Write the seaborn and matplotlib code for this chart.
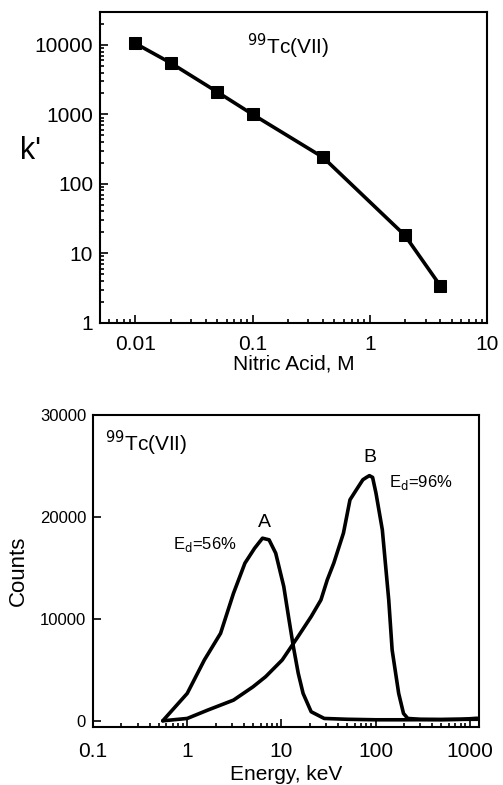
import matplotlib
matplotlib.use("Agg")
import matplotlib.pyplot as plt
import matplotlib.ticker as mticker
import seaborn as sns
import pandas as pd

sns.set_style("white")
plt.rcParams['font.family'] = ['Liberation Sans', 'DejaVu Sans']
plt.rcParams['text.color'] = 'black'
plt.rcParams['axes.labelcolor'] = 'black'
plt.rcParams['xtick.color'] = 'black'
plt.rcParams['ytick.color'] = 'black'

# Top panel data
nitric_acid = [0.01, 0.02, 0.05, 0.1, 0.4, 2.0, 4.0]
k_prime = [10500, 5500, 2100, 1000, 240, 18, 3.4]

# Bottom panel data: spectrum A
energy_a = [0.55, 1.0, 1.52, 2.26, 3.1, 4.1, 5.2, 6.3, 7.4, 8.7, 10.6, 11.9,
            13.4, 15.1, 17.0, 20.7, 28.5, 50, 100, 200, 500, 1000, 1200]
counts_a = [0, 2690, 5970, 8590, 12520, 15480, 16950, 17930, 17770, 16460,
            13180, 10230, 7280, 4660, 2690, 890, 230, 150, 100, 100, 120, 150, 150]
# spectrum B
energy_b = [0.55, 1.0, 1.65, 3.1, 5.0, 6.8, 10.2, 15.0, 20.7, 26.3, 30.7, 36.0,
            45.6, 53.5, 62.6, 73.3, 80, 86, 93, 101, 118, 138, 150, 176, 198,
            220, 300, 500, 800, 1000, 1200]
counts_b = [0, 230, 1050, 2030, 3340, 4330, 5970, 8260, 10230, 11870, 13840,
            15480, 18430, 21700, 22690, 23670, 23900, 24070, 23900, 22360, 18750,
            11870, 6950, 2690, 720, 230, 150, 120, 150, 200, 250]

fig = plt.figure(figsize=(5.03, 7.85), dpi=100)
ax1 = fig.add_axes([0.199, 0.589, 0.769, 0.396])
ax2 = fig.add_axes([0.185, 0.074, 0.767, 0.397])

# Top panel
df1 = pd.DataFrame({"x": nitric_acid, "y": k_prime})
sns.lineplot(data=df1, x="x", y="y", ax=ax1, color="black", lw=2.6,
             marker="s", markersize=8, markeredgecolor="black")
ax1.set_xscale("log")
ax1.set_yscale("log")
ax1.set_xlim(0.005, 10)
ax1.set_ylim(1, 30000)
ax1.set_xticks([0.01, 0.1, 1, 10])
ax1.set_xticklabels(["0.01", "0.1", "1", "10"])
ax1.set_yticks([1, 10, 100, 1000, 10000])
ax1.set_yticklabels(["1", "10", "100", "1000", "10000"])
ax1.xaxis.set_minor_locator(mticker.LogLocator(base=10, subs=range(2, 10)))
ax1.yaxis.set_minor_locator(mticker.LogLocator(base=10, subs=range(2, 10)))
ax1.xaxis.set_minor_formatter(mticker.NullFormatter())
ax1.yaxis.set_minor_formatter(mticker.NullFormatter())
ax1.tick_params(which="both", direction="in", bottom=True, left=True,
                top=False, right=False, labelsize=15, width=1.2, colors="black")
ax1.tick_params(which="major", length=6)
ax1.tick_params(axis="y", which="major", pad=5)
ax1.tick_params(axis="x", which="major", pad=9)
ax1.tick_params(which="minor", length=3)
ax1.set_xlabel("Nitric Acid, M", fontsize=15, labelpad=0)
ax1.set_ylabel("k'", fontsize=22, rotation=0, va="center", ha="center")
ax1.yaxis.set_label_coords(-0.18, 0.553)
ax1.text(0.38, 0.89, r"$^{99}$Tc(VII)", transform=ax1.transAxes,
         fontsize=15, ha="left", va="center")

# Bottom panel
dfa = pd.DataFrame({"x": energy_a, "y": counts_a})
dfb = pd.DataFrame({"x": energy_b, "y": counts_b})
sns.lineplot(data=dfa, x="x", y="y", ax=ax2, color="black", lw=2.6, sort=False)
sns.lineplot(data=dfb, x="x", y="y", ax=ax2, color="black", lw=2.6, sort=False)
ax2.set_xscale("log")
ax2.set_xlim(0.1, 1250)
ax2.set_ylim(-600, 30000)
ax2.set_xticks([0.1, 1, 10, 100, 1000])
ax2.set_xticklabels(["0.1", "1", "10", "100", "1000"])
ax2.set_yticks([0, 10000, 20000, 30000])
ax2.set_yticklabels(["0", "10000", "20000", "30000"])
ax2.xaxis.set_minor_locator(mticker.LogLocator(base=10, subs=range(2, 10)))
ax2.xaxis.set_minor_formatter(mticker.NullFormatter())
ax2.tick_params(axis="x", which="both", direction="in", bottom=True, top=False,
                labelsize=15, width=1.2, colors="black")
ax2.tick_params(axis="y", which="both", direction="in", left=True, right=False,
                labelsize=12, width=1.2, colors="black")
ax2.tick_params(which="major", length=6)
ax2.tick_params(axis="y", which="major", pad=5)
ax2.tick_params(axis="x", which="major", pad=11)
ax2.tick_params(which="minor", length=3)
ax2.set_xlabel("Energy, keV", fontsize=15, labelpad=3)
ax2.set_ylabel("Counts", fontsize=16, labelpad=8)
ax2.text(0.03, 0.91, r"$^{99}$Tc(VII)", transform=ax2.transAxes,
         fontsize=15, ha="left", va="center")
ax2.text(6.6, 18600, "A", fontsize=14, ha="center", va="bottom")
ax2.text(88, 25000, "B", fontsize=14, ha="center", va="bottom")
ax2.text(1.55, 17350, r"E$_{\rm d}$=56%", fontsize=12, ha="center", va="center")
ax2.text(305, 23430, r"E$_{\rm d}$=96%", fontsize=12, ha="center", va="center")

for ax in (ax1, ax2):
    for s in ax.spines.values():
        s.set_color("black")
        s.set_linewidth(1.5)
    ax.set_facecolor("white")

fig.savefig("out.png", dpi=100, facecolor="white")
